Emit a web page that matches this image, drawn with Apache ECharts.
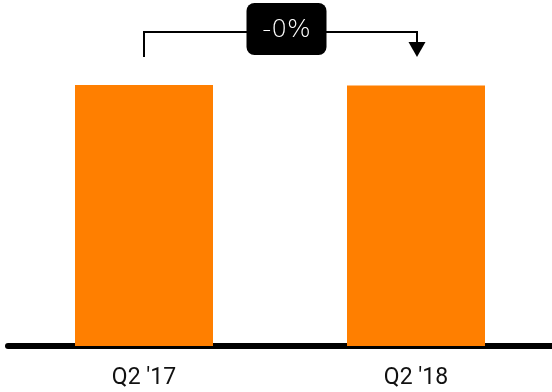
<!DOCTYPE html>
<html>
<head>
<meta charset="utf-8">
<script src="https://cdn.jsdelivr.net/npm/echarts@6/dist/echarts.min.js"></script>
<style>
  html, body { margin: 0; padding: 0; background: #fff; }
  #chart { width: 552px; height: 392px; }
</style>
</head>
<body>
<div id="chart"></div>
<script>
// Quarterly values (same quarter, year over year)
const categories = ["Q2 '17", "Q2 '18"];
const values = [100, 99.8];

const BAR_COLOR = '#ff7f00';

const change = (values[1] - values[0]) / values[0] * 100;
const changeText = (change < 0 ? '-' : '+') + Math.abs(Math.round(change)) + '%';

const chart = echarts.init(document.getElementById('chart'), null, { renderer: 'canvas' });

chart.setOption({
  animation: false,
  grid: { left: 8, right: 0, top: 85, bottom: 46, containLabel: false },
  xAxis: {
    type: 'category',
    data: categories,
    offset: 3,
    axisLine: { show: true, lineStyle: { color: '#000', width: 6 } },
    axisTick: { show: false },
    axisLabel: {
      color: '#111',
      fontFamily: 'Roboto',
      fontSize: 23,
      margin: 18
    }
  },
  yAxis: {
    type: 'value',
    min: 0,
    max: 100,
    show: false
  },
  series: [{
    type: 'bar',
    data: values,
    barWidth: 138,
    itemStyle: { color: BAR_COLOR }
  }]
});

// Change annotation: bracket arrow from first bar to second with a label box
function drawAnnotation() {
  const p0 = chart.convertToPixel({ seriesIndex: 0 }, [0, values[0]]);
  const p1 = chart.convertToPixel({ seriesIndex: 0 }, [1, values[1]]);
  const topY = Math.min(p0[1], p1[1]);
  const x0 = p0[0], x1 = p1[0] + 1;
  const lineY = topY - 53;
  const endY = topY - 28;
  const headH = 15, headW = 17;
  const midX = (x0 + x1) / 2 + 6;
  const boxW = 80, boxH = 52;

  chart.setOption({
    graphic: [
      {
        type: 'polyline',
        shape: { points: [[x0, endY], [x0, lineY], [x1, lineY], [x1, endY - headH]] },
        style: { stroke: '#000', lineWidth: 2, fill: null }
      },
      {
        type: 'polygon',
        shape: { points: [[x1 - headW / 2, endY - headH], [x1 + headW / 2, endY - headH], [x1, endY]] },
        style: { fill: '#000' }
      },
      {
        type: 'rect',
        shape: { x: midX - boxW / 2, y: lineY - 29, width: boxW, height: boxH, r: 8 },
        style: { fill: '#000' }
      },
      {
        type: 'text',
        x: midX,
        y: lineY - 2,
        style: {
          text: changeText,
          fill: '#fff',
          font: '300 25px "DejaVu Sans"',
          align: 'center',
          verticalAlign: 'middle'
        }
      }
    ]
  });
}
drawAnnotation();
</script>
</body>
</html>
